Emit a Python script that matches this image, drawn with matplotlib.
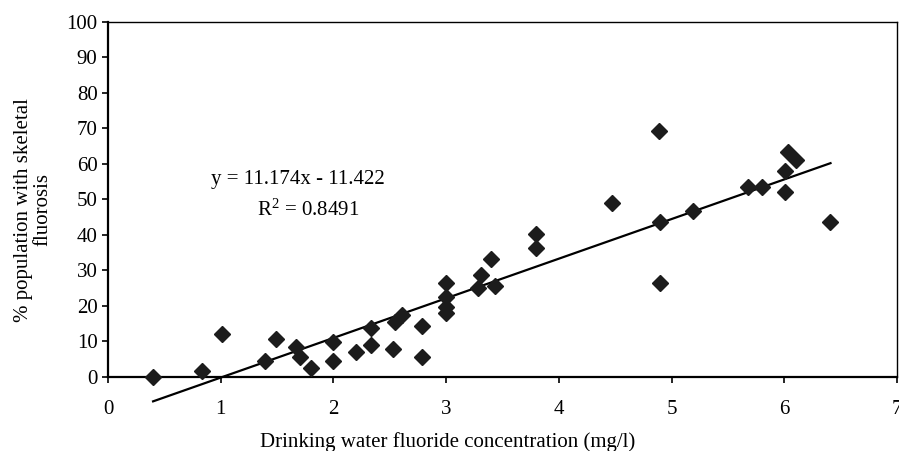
import matplotlib
matplotlib.use("Agg")
import matplotlib.pyplot as plt
import numpy as np

plt.rcParams['font.family'] = 'Liberation Serif'
plt.rcParams['mathtext.fontset'] = 'custom'
plt.rcParams['mathtext.rm'] = 'Liberation Serif'
plt.rcParams['mathtext.it'] = 'Liberation Serif:italic'

# fluoride concentration (mg/l) vs % population with skeletal fluorosis
fluoride = [0.40, 0.83, 1.01, 1.39, 1.49, 1.67, 1.70, 1.80, 2.00, 2.00,
            2.20, 2.33, 2.33, 2.53, 2.55, 2.61, 2.79, 2.79, 3.00, 3.00,
            3.00, 3.00, 3.28, 3.31, 3.40, 3.43, 3.80, 3.80, 4.47, 4.89,
            4.90, 4.90, 5.19, 5.68, 5.80, 6.01, 6.01, 6.03, 6.10, 6.41]
fluorosis = [0.0, 1.6, 12.0, 4.5, 10.5, 8.5, 5.5, 2.4, 9.9, 4.5,
             6.9, 13.6, 8.9, 7.7, 15.5, 17.4, 14.3, 5.5, 26.5, 22.6,
             19.7, 18.0, 25.1, 28.7, 33.2, 25.6, 40.1, 36.2, 48.9, 69.3,
             43.7, 26.5, 46.8, 53.6, 53.6, 58.1, 52.0, 63.3, 61.1, 43.7]

slope = 11.174
intercept = -11.422
r2 = 0.8491
fit_x = np.array([0.40, 6.41])

fig = plt.figure(figsize=(8.99, 4.51), dpi=100)
ax = fig.add_axes([108/899, 1 - 376.7/451, (897-108)/899, (376.7-22)/451])

ax.plot(fluoride, fluorosis, linestyle='none', marker='D', ms=8.5,
        mfc='#1c1c1c', mec='#1c1c1c', clip_on=False, zorder=3)
ax.plot(fit_x, slope*fit_x + intercept, color='black', lw=1.6, clip_on=False)

ax.set_xlim(0, 7)
ax.set_ylim(0, 100)
ax.set_xticks(range(0, 8))
ax.set_yticks(range(0, 101, 10))
ax.tick_params(axis='both', labelsize=15, direction='out', color='black')
ax.tick_params(axis='y', length=4.5, width=1.2, pad=3)
ax.tick_params(axis='x', length=4, width=1.2, pad=13)

for s in ['left', 'bottom']:
    ax.spines[s].set_linewidth(1.6)
for s in ['top', 'right']:
    ax.spines[s].set_linewidth(1.0)

ax.text(1.686, 55.5, "y = 11.174x - 11.422", fontsize=15, ha='center', va='center')
ax.text(1.775, 47.0, "R$^{2}$ = %.4f" % r2, fontsize=15, ha='center', va='center')

fig.text(448/899, 1 - 442/451, "Drinking water fluoride concentration (mg/l)",
         fontsize=15, ha='center', va='center')
fig.text(33/899, 1 - 210/451, "% population with skeletal\nfluorosis",
         fontsize=15, ha='center', va='center', rotation=90,
         multialignment='center', linespacing=1.0)

plt.savefig("out.png", dpi=100)
